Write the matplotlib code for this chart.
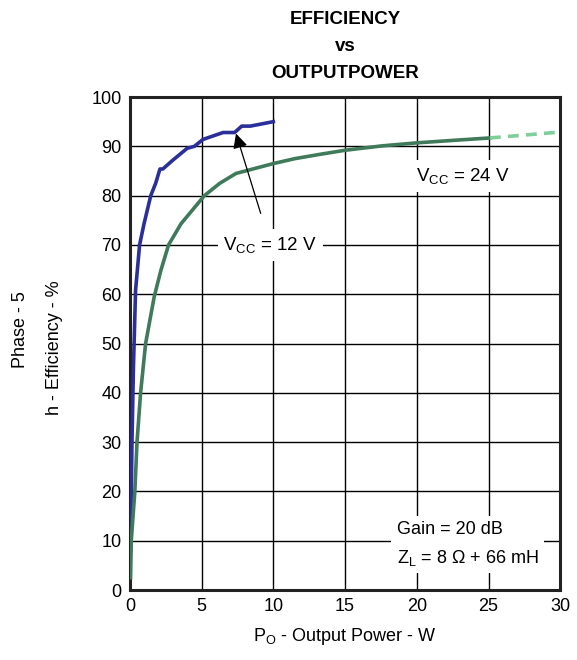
import numpy as np
import matplotlib.pyplot as plt

plt.rcParams['font.family'] = ['Liberation Sans', 'DejaVu Sans']
plt.rcParams['mathtext.fontset'] = 'custom'
plt.rcParams['mathtext.rm'] = 'Liberation Sans'
plt.rcParams['mathtext.it'] = 'Liberation Sans'

# VCC = 12 V
p12 = [0.05, 0.15, 0.25, 0.4, 0.68, 0.99, 1.46, 1.8, 2.1, 2.3, 3.0, 4.0, 4.5, 5.1, 6.5, 7.3, 7.8, 8.4, 10.0]
e12 = [8.0, 30.0, 45.0, 60.8, 70.0, 74.3, 80.0, 82.5, 85.4, 85.4, 87.2, 89.6, 90.0, 91.4, 92.8, 92.8, 94.1, 94.1, 95.0]

# VCC = 24 V (measured part)
p24 = [0.05, 0.1, 0.35, 0.5, 0.75, 1.1, 1.7, 2.16, 2.7, 3.57, 5.2, 6.27, 7.4, 10.0, 11.5, 13.3, 15.0, 17.6, 20.0, 22.5, 25.1]
e24 = [2.5, 10.0, 20.0, 30.0, 40.0, 50.0, 59.5, 64.8, 70.0, 74.3, 80.0, 82.5, 84.5, 86.5, 87.5, 88.4, 89.2, 90.1, 90.7, 91.2, 91.7]

# VCC = 24 V (extrapolated part)
p24x = [25.1, 30.0]
e24x = [91.7, 92.9]

xticks = [0, 5, 10, 15, 20, 25, 30]
yticks = [0, 10, 20, 30, 40, 50, 60, 70, 80, 90, 100]

fig = plt.figure(figsize=(5.77, 6.6), dpi=100)
ax = fig.add_axes([0.225, 0.106, 0.746, 0.747])

ax.plot(p12, e12, color='#2b2f9a', linewidth=2.6, zorder=4)
ax.plot(p24, e24, color='#3f7a5a', linewidth=2.6, zorder=4)
ax.plot(p24x, e24x, color='#7fcf9a', linewidth=2.6, linestyle=(0, (3, 2)), zorder=4)

ax.set_xlim(0, 30)
ax.set_ylim(0, 100)
ax.set_xticks(xticks)
ax.set_yticks(yticks)
ax.tick_params(length=0, labelsize=13, pad=6)
ax.grid(True, color='black', linewidth=1.0)
for s in ax.spines.values():
    s.set_linewidth(2.2)
    s.set_color('#222222')

ax.set_xlabel(r'P$_\mathrm{O}$ - Output Power - W', fontsize=13, labelpad=8)
fig.text(0.035, 0.5, 'Phase - 5', rotation=90, fontsize=13, ha='center', va='center')
fig.text(0.095, 0.473, 'h - Efficiency - %', rotation=90, fontsize=13, ha='center', va='center')

ax.set_title('EFFICIENCY\nvs\nOUTPUTPOWER', fontsize=13.5, fontweight='bold',
             linespacing=1.75, pad=14)

box = dict(facecolor='white', edgecolor='none', pad=4)
ax.annotate(r'V$_\mathrm{CC}$ = 12 V', xy=(7.4, 92.6), xytext=(9.8, 70),
            fontsize=13.5, ha='center', va='center', bbox=box, zorder=5,
            arrowprops=dict(arrowstyle='-|>', color='black', lw=0.9,
                            mutation_scale=22, shrinkA=12, shrinkB=0))
ax.text(23.2, 84, r'V$_\mathrm{CC}$ = 24 V', fontsize=13.5, ha='center', va='center',
        bbox=box, zorder=5)
ax.text(18.6, 9.3, 'Gain = 20 dB\n' + r'Z$_\mathrm{L}$ = 8 Ω + 66 mH', fontsize=13,
        ha='left', va='center', linespacing=1.65, bbox=box, zorder=5)

fig.savefig('out.png', dpi=100)
